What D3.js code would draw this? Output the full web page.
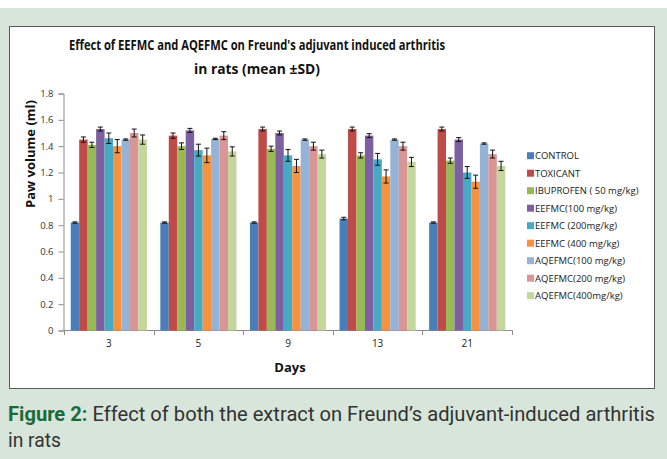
<!DOCTYPE html>
<html>
<head>
<meta charset="utf-8">
<script src="https://cdn.jsdelivr.net/npm/d3@7"></script>
<style>
  body { margin: 0; background: #fff; }
  svg { display: block; }
</style>
</head>
<body>
<svg></svg>
<script>
var svgWidth = 667;
var svgHeight = 459;

var days = ['3', '5', '9', '13', '21'];
var seriesNames = ['CONTROL', 'TOXICANT', 'IBUPROFEN ( 50 mg/kg)', 'EEFMC(100 mg/kg)', 'EEFMC (200mg/kg)',
                   'EEFMC (400 mg/kg)', 'AQEFMC(100 mg/kg)', 'AQEFMC(200 mg/kg)', 'AQEFMC(400mg/kg)'];
var seriesColors = ['#4a7ebb', '#be4b48', '#98b954', '#7d60a0', '#46aac5', '#f69240', '#95b3d7', '#d99694', '#c3d69b'];

// mean paw volume per series, one value per day
var control   = [0.82, 0.82, 0.82, 0.85, 0.82];
var toxicant  = [1.45, 1.48, 1.53, 1.53, 1.53];
var ibuprofen = [1.41, 1.40, 1.38, 1.33, 1.29];
var eef100    = [1.53, 1.52, 1.50, 1.48, 1.45];
var eef200    = [1.46, 1.37, 1.33, 1.30, 1.20];
var eef400    = [1.40, 1.33, 1.25, 1.17, 1.13];
var aq100     = [1.45, 1.455, 1.45, 1.45, 1.42];
var aq200     = [1.50, 1.48, 1.40, 1.40, 1.34];
var aq400     = [1.45, 1.36, 1.34, 1.28, 1.25];

// standard deviations
var controlSd   = [0.005, 0.005, 0.005, 0.01, 0.005];
var toxicantSd  = [0.02, 0.02, 0.015, 0.015, 0.015];
var ibuprofenSd = [0.02, 0.025, 0.02, 0.02, 0.02];
var eef100Sd    = [0.015, 0.015, 0.015, 0.015, 0.015];
var eef200Sd    = [0.04, 0.045, 0.045, 0.045, 0.045];
var eef400Sd    = [0.05, 0.055, 0.05, 0.05, 0.05];
var aq100Sd     = [0.005, 0.005, 0.005, 0.005, 0.005];
var aq200Sd     = [0.03, 0.03, 0.03, 0.03, 0.03];
var aq400Sd     = [0.035, 0.035, 0.03, 0.035, 0.035];

var yTicks = [0, 0.2, 0.4, 0.6, 0.8, 1, 1.2, 1.4, 1.6, 1.8];

var allValues = [control, toxicant, ibuprofen, eef100, eef200, eef400, aq100, aq200, aq400];
var allSd = [controlSd, toxicantSd, ibuprofenSd, eef100Sd, eef200Sd, eef400Sd, aq100Sd, aq200Sd, aq400Sd];

var svg = d3.select('svg')
            .attr('width', svgWidth)
            .attr('height', svgHeight);

var font = "'Open Sans', 'Noto Sans', sans-serif";
var capFont = "'Liberation Sans Narrow', 'Roboto', sans-serif";

/* page background + chart frame */
svg.append('rect').attr('x', 0).attr('y', 8).attr('width', svgWidth).attr('height', svgHeight - 8)
   .style('fill', '#d7e5da');
svg.append('rect').attr('x', 9.5).attr('y', 26.5).attr('width', 645).attr('height', 362)
   .style('fill', '#fff').style('stroke', '#5a5a5a').style('stroke-width', 1);

/* title */
svg.append('text').text("Effect of EEFMC and AQEFMC on Freund's adjuvant induced arthritis")
   .attr('x', 257).attr('y', 50).attr('text-anchor', 'middle')
   .attr('textLength', 376).attr('lengthAdjust', 'spacingAndGlyphs')
   .style('font-family', font).style('font-weight', 'bold').style('font-size', '14.5px').style('fill', '#111');
svg.append('text').text('in rats (mean \u00b1SD)')
   .attr('x', 257).attr('y', 74).attr('text-anchor', 'middle')
   .attr('textLength', 126).attr('lengthAdjust', 'spacingAndGlyphs')
   .style('font-family', font).style('font-weight', 'bold').style('font-size', '14.5px').style('fill', '#111');

/* scales */
var x0 = d3.scaleBand().domain(days).range([64, 512]).paddingInner(0.15).paddingOuter(0.075);
var x1 = d3.scaleBand().domain(d3.range(seriesNames.length)).range([0, x0.bandwidth()]);
var y = d3.scaleLinear().domain([0, 1.8]).range([330.5, 93.5]);

/* y axis */
var yAxis = svg.append('g').attr('transform', 'translate(63.5,0)')
   .call(d3.axisLeft(y).tickValues(yTicks).tickSize(5).tickFormat(d3.format('')));
yAxis.select('.domain').style('stroke', '#8c8c8c');
yAxis.selectAll('.tick line').style('stroke', '#8c8c8c');
yAxis.selectAll('.tick text').style('font-family', font).style('font-size', '9.5px').style('fill', '#333')
     .attr('x', -10);

/* x axis */
svg.append('line').attr('x1', 63.5).attr('x2', 512.5).attr('y1', 330.5).attr('y2', 330.5)
   .style('stroke', '#8c8c8c');
svg.selectAll('.xtick').data(d3.range(days.length + 1)).enter().append('line')
   .attr('x1', i => Math.round(64 + i * x0.step()) + 0.5)
   .attr('x2', i => Math.round(64 + i * x0.step()) + 0.5)
   .attr('y1', 330.5).attr('y2', 335)
   .style('stroke', '#8c8c8c');
svg.selectAll('.xlabel').data(days).enter().append('text')
   .text(d => d)
   .attr('x', d => x0(d) + x0.bandwidth() / 2).attr('y', 347)
   .attr('text-anchor', 'middle')
   .style('font-family', font).style('font-size', '10px').style('fill', '#222');

/* bars */
var groups = svg.selectAll('.day').data(days).enter().append('g')
   .attr('transform', d => `translate(${x0(d)},0)`);

groups.each(function(day, di){
    var g = d3.select(this);
    var rows = seriesNames.map((name, si) => ({si: si, v: allValues[si][di], sd: allSd[si][di]}));
    g.selectAll('rect').data(rows).enter().append('rect')
     .attr('x', d => x1(d.si))
     .attr('y', d => y(d.v))
     .attr('width', x1.bandwidth())
     .attr('height', d => y(0) - y(d.v))
     .style('fill', d => seriesColors[d.si]);
    var eb = g.selectAll('.err').data(rows).enter().append('g');
    eb.append('line')
      .attr('x1', d => x1(d.si) + x1.bandwidth() / 2).attr('x2', d => x1(d.si) + x1.bandwidth() / 2)
      .attr('y1', d => y(d.v - d.sd)).attr('y2', d => y(d.v + d.sd))
      .style('stroke', '#111').style('stroke-width', 1);
    eb.append('line')
      .attr('x1', d => x1(d.si) + x1.bandwidth() / 2 - 2.5).attr('x2', d => x1(d.si) + x1.bandwidth() / 2 + 2.5)
      .attr('y1', d => y(d.v + d.sd)).attr('y2', d => y(d.v + d.sd))
      .style('stroke', '#111').style('stroke-width', 1);
    eb.append('line')
      .attr('x1', d => x1(d.si) + x1.bandwidth() / 2 - 2.5).attr('x2', d => x1(d.si) + x1.bandwidth() / 2 + 2.5)
      .attr('y1', d => y(d.v - d.sd)).attr('y2', d => y(d.v - d.sd))
      .style('stroke', '#111').style('stroke-width', 1);
});

/* axis titles */
svg.append('text').text('Paw volume (ml)')
   .attr('transform', 'translate(35,154) rotate(-90)').attr('text-anchor', 'middle')
   .style('font-family', font).style('font-weight', 'bold').style('font-size', '13px').style('fill', '#111');
svg.append('text').text('Days')
   .attr('x', 290).attr('y', 372).attr('text-anchor', 'middle')
   .style('font-family', font).style('font-weight', 'bold').style('font-size', '13px').style('fill', '#111');

/* legend */
var legend = svg.selectAll('.legend').data(seriesNames).enter().append('g')
   .attr('transform', (d, i) => `translate(527,${155.7 + i * 17.5})`);
legend.append('rect').attr('x', 0).attr('y', -3.5).attr('width', 7).attr('height', 7)
   .style('fill', (d, i) => seriesColors[i]);
legend.append('text').text(d => d)
   .attr('x', 8).attr('y', 3.4)
   .style('font-family', font).style('font-size', '9.5px').style('fill', '#222');

/* figure caption */
var cap = svg.append('text').attr('x', 8).attr('y', 421)
   .attr('textLength', 647).attr('lengthAdjust', 'spacingAndGlyphs')
   .style('font-family', capFont).style('font-size', '20px').style('fill', '#333');
cap.append('tspan').text('Figure 2:').style('font-weight', 'bold').style('fill', '#1b6b3a');
cap.append('tspan').text(' Effect of both the extract on Freund\u2019s adjuvant-induced arthritis');
svg.append('text').text('in rats').attr('x', 8).attr('y', 447)
   .attr('textLength', 53).attr('lengthAdjust', 'spacingAndGlyphs')
   .style('font-family', capFont).style('font-size', '20px').style('fill', '#333');
</script>
</body>
</html>
